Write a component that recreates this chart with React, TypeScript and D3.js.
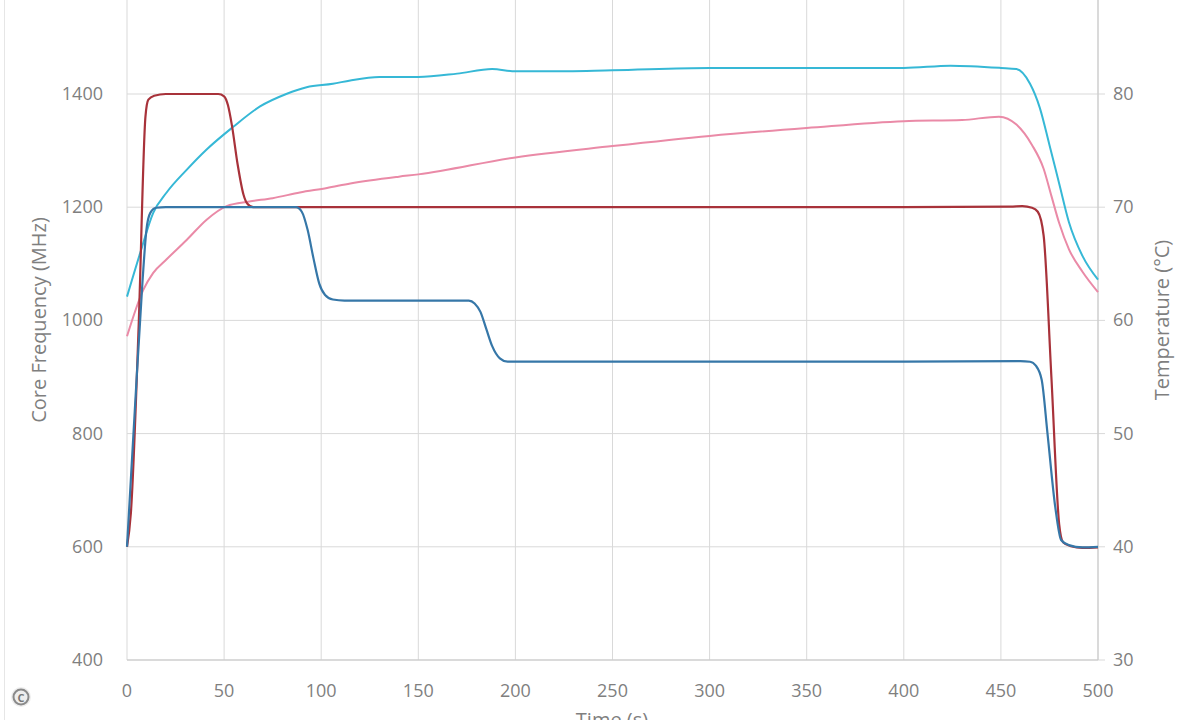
import React from "react";
import * as d3 from "d3";

// Time axis ticks (s)
const timeTicks = [0, 50, 100, 150, 200, 250, 300, 350, 400, 450, 500];
const freqTicks = [400, 600, 800, 1000, 1200, 1400];
const tempTicks = [30, 40, 50, 60, 70, 80];

// Core frequency series (MHz) — [time s, MHz]
const freqRed: [number, number][] = [
  [0, 600], [2, 660], [6, 990], [9.5, 1360], [11, 1390], [14, 1397], [20, 1400],
  [47, 1400], [50, 1396], [52, 1380], [54, 1345], [57, 1275], [60, 1222], [62, 1206],
  [65, 1200], [100, 1200], [200, 1200], [300, 1200], [400, 1200], [455, 1201], [461, 1202],
  [466, 1199], [469, 1192], [472, 1150], [476, 900], [480, 640], [482, 608], [486, 601],
  [492, 598], [500, 599],
];
const freqBlue: [number, number][] = [
  [0, 600], [4, 840], [8, 1070], [10, 1160], [12, 1190], [15, 1199], [20, 1200],
  [87, 1200], [90, 1192], [93, 1160], [96, 1110], [99, 1065], [102, 1045], [106, 1037],
  [112, 1035], [150, 1035], [176, 1035], [179, 1030], [182, 1015], [185, 985], [188, 955],
  [192, 933], [196, 927], [250, 927], [300, 927], [400, 927], [460, 928], [465, 927],
  [468, 920], [471, 895], [474, 800], [478, 670], [481, 612], [485, 603], [492, 599], [500, 600],
];

// Temperature series (°C) — [time s, °C]
const tempCyan: [number, number][] = [
  [0, 62.1], [6.7, 65.9], [13.5, 69.5], [20.4, 71.3], [30.7, 73.3], [41, 75.1], [54.7, 77.1],
  [68.5, 78.9], [82, 80.0], [92.5, 80.6], [106, 80.9], [115, 81.2], [130, 81.5], [150, 81.5],
  [170, 81.8], [188, 82.2], [200, 82.0], [216, 82.0], [250, 82.1], [300, 82.3], [350, 82.3],
  [400, 82.3], [424, 82.5], [450, 82.3], [458, 82.2], [465, 80.9], [470, 78.8], [475, 75.5],
  [480, 72.1], [485, 68.7], [492, 65.7], [500, 63.6],
];
const tempPink: [number, number][] = [
  [0, 58.6], [8.4, 62.7], [13.5, 64.2], [20.4, 65.4], [30.7, 67.1], [41, 68.9], [51.3, 70.1],
  [63, 70.5], [75, 70.8], [89, 71.3], [103, 71.7], [115, 72.1], [140, 72.7], [150, 72.9],
  [200, 74.4], [250, 75.4], [300, 76.3], [350, 77.0], [400, 77.6], [430, 77.7], [449, 78.0],
  [458, 77.3], [466, 75.5], [472, 73.4], [476, 71.0], [480, 68.6], [485, 66.3], [492, 64.3],
  [500, 62.5],
];

const W = 1200;
const H = 720;
const x = d3.scaleLinear().domain([0, 500]).range([127, 1098]);
const yF = d3.scaleLinear().domain([400, 1400]).range([660, 94]);
const yT = d3.scaleLinear().domain([30, 80]).range([660, 94]);

const lineF = d3.line<[number, number]>().x((d) => x(d[0])).y((d) => yF(d[1])).curve(d3.curveMonotoneX);
const lineT = d3.line<[number, number]>().x((d) => x(d[0])).y((d) => yT(d[1])).curve(d3.curveMonotoneX);

const FONT = "'Open Sans', 'Noto Sans', sans-serif";
const TXT = "#7f7f7f";
const GRID = "#d9d9d9";

export default function App() {
  return (
    <svg width={W} height={H} style={{ position: "absolute", left: 0, top: 0, background: "#fff" }}
      fontFamily={FONT}>
      <rect x={0} y={0} width={W} height={H} fill="#fff" />
      <line x1={4.5} x2={4.5} y1={0} y2={H} stroke="#e6e6e6" />
      {/* vertical grid */}
      {timeTicks.map((t) => (
        <line key={"v" + t} x1={x(t)} x2={x(t)} y1={0} y2={660} stroke={GRID} strokeWidth={1} />
      ))}
      {/* horizontal grid */}
      {freqTicks.map((f) => (
        <line key={"h" + f} x1={x(0)} x2={x(500) + 7} y1={yF(f)} y2={yF(f)} stroke={GRID} strokeWidth={1} />
      ))}
      <line x1={x(0)} x2={x(500)} y1={660} y2={660} stroke="#c8c8c8" />
      <line x1={x(500)} x2={x(500)} y1={0} y2={660} stroke="#c8c8c8" />

      {/* series */}
      <path d={lineT(tempPink) || ""} fill="none" stroke="#ea8aa7" strokeWidth={2} />
      <path d={lineT(tempCyan) || ""} fill="none" stroke="#36b8d6" strokeWidth={2} />
      <path d={lineF(freqRed) || ""} fill="none" stroke="#a8323a" strokeWidth={2.2} />
      <path d={lineF(freqBlue) || ""} fill="none" stroke="#3677a8" strokeWidth={2.2} />

      {/* tick labels */}
      {timeTicks.map((t) => (
        <text key={"xt" + t} x={x(t)} y={697} textAnchor="middle" fontSize={18} fill={TXT}>{t}</text>
      ))}
      {freqTicks.map((f) => (
        <text key={"yl" + f} x={103} y={yF(f) + 6} textAnchor="end" fontSize={18} fill={TXT}>{f}</text>
      ))}
      {tempTicks.map((c) => (
        <text key={"yr" + c} x={1113} y={yT(c) + 6} textAnchor="start" fontSize={18} fill={TXT}>{c}</text>
      ))}

      {/* axis titles */}
      <text transform="translate(46,320) rotate(-90)" textAnchor="middle" fontSize={20} fill={TXT}>Core Frequency (MHz)</text>
      <text transform="translate(1169,320) rotate(-90)" textAnchor="middle" fontSize={20} fill={TXT}>Temperature (°C)</text>
      <text x={612} y={727} textAnchor="middle" fontSize={20} fill={TXT}>Time (s)</text>

      {/* copyright mark */}
      <circle cx={21} cy={697} r={10} fill="#eeeeee" />
      <circle cx={21} cy={697} r={7.5} fill="none" stroke="#8a8a8a" strokeWidth={2} />
      <text x={21} y={701.5} textAnchor="middle" fontSize={11} fontWeight="bold" fill="#777">C</text>
    </svg>
  );
}
